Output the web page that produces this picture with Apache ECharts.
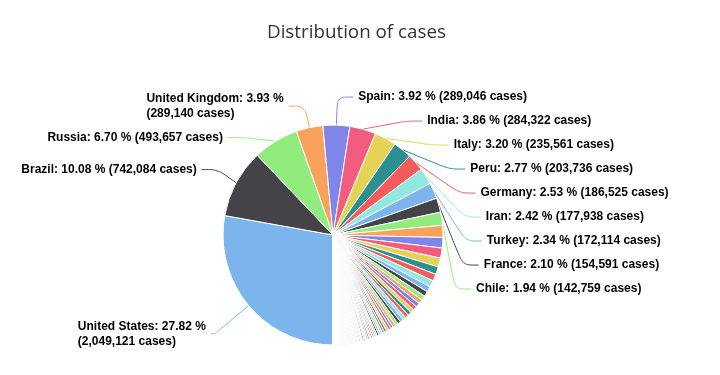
<!DOCTYPE html>
<html>
<head>
<meta charset="utf-8">
<script src="https://cdn.jsdelivr.net/npm/echarts@6/dist/echarts.min.js"></script>
<style>
html,body{margin:0;padding:0;background:#fff;}
#chart{width:720px;height:375px;}
</style>
</head>
<body>
<div id="chart"></div>
<script>
const titleText = 'Distribution of cases';

const countries = [
  'United States','Brazil','Russia','United Kingdom','Spain','India','Italy','Peru','Germany','Iran','Turkey','France','Chile',
  'Mexico','Pakistan','Saudi Arabia','Canada','China','Bangladesh','Qatar','Belgium','South Africa','Belarus',
  'Netherlands','Sweden','Ecuador','Colombia','UAE','Singapore','Egypt','Portugal','Indonesia','Kuwait',
  'Switzerland','Ukraine','Poland','Ireland','Argentina','Philippines','Afghanistan','Dominican Republic','Romania','Israel',
  'Panama','Oman','Japan','Austria','Bahrain','Iraq','Armenia','Bolivia','Nigeria','Kazakhstan',
  'Denmark','Serbia','South Korea','Algeria','Moldova','Ghana','Czechia','Cameroon','Morocco','Norway',
  'Malaysia','Guatemala','Azerbaijan','Australia','Finland','Sudan','Honduras','Uzbekistan','Senegal','Tajikistan',
  'Nepal','DR Congo','Ivory Coast','Guinea','Luxembourg','Djibouti','Hungary','Haiti','Gabon','El Salvador',
  'North Macedonia','Kenya','Thailand','Greece','Bulgaria','Bosnia and Herzegovina','Venezuela','Mayotte','Somalia','Ethiopia',
  'Croatia','Cuba','Kyrgyzstan','Maldives','Estonia','Sri Lanka','Central African Republic','Iceland','Costa Rica','Lithuania',
  'Mali','South Sudan','Slovakia','New Zealand','Slovenia','Nicaragua','Lebanon','Albania','Guinea-Bissau','Madagascar',
  'Equatorial Guinea','Kosovo','French Guiana','Paraguay','Zambia','Sierra Leone','Hong Kong','Mauritania','Latvia','Tunisia',
  'Niger','Cyprus','Burkina Faso','Jordan','Andorra','Uruguay','Chad','Georgia','Diamond Princess','San Marino',
  'Congo','Uganda','Malta','Sao Tome and Principe','Jamaica','Yemen','Channel Islands','Palestine','Tanzania','Togo',
  'Mozambique','Réunion','Malawi','Rwanda','Taiwan','Eswatini','Libya','Liberia','Mauritius','Isle of Man',
  'Vietnam','Montenegro','Zimbabwe','Benin','Myanmar','Martinique','Suriname','Mongolia','Cayman Islands','Faroe Islands',
  'Gibraltar','Comoros','Syria','Guadeloupe','Guyana','Bermuda','Brunei','Cambodia','Trinidad and Tobago','Angola',
  'Bahamas','Aruba','Monaco','Barbados','Burundi','Liechtenstein','Sint Maarten','Bhutan','Botswana','Macao',
  'Eritrea','Namibia','Gambia','Saint Vincent','Antigua and Barbuda','Timor-Leste','Grenada','Curaçao','Laos','Belize',
  'Saint Lucia','Fiji','Dominica','Saint Kitts and Nevis','Falkland Islands','Greenland','Turks and Caicos','Vatican City','Montserrat','Seychelles',
  'Western Sahara','Papua New Guinea','British Virgin Islands','Caribbean Netherlands','St. Barth','Lesotho','Anguilla','Saint Pierre Miquelon'
];

const cases = [
  2049121,742084,493657,289140,289046,284322,235561,203736,186525,177938,172114,154591,142759,
  129184,113702,108571,96653,83057,74865,71879,59348,55421,50265,
  47739,45133,43378,40719,39904,38965,35444,35306,33076,32510,
  30965,28381,28201,25207,24761,23732,21459,20808,20749,18032,
  17889,17486,17251,17034,16667,15414,14669,14644,14554,13100,
  12099,12036,11947,10484,10391,10201,9940,8681,8610,8576,
  8369,8221,8191,7285,7001,6730,6327,4877,4759,4690,
  4614,4390,4181,4117,4078,4054,4017,3662,3463,3373,
  3364,3215,3125,3088,3086,2775,2738,2540,2494,2336,
  2249,2200,2007,1981,1965,1859,1850,1807,1744,1720,
  1715,1670,1531,1504,1488,1464,1388,1385,1339,1317,
  1306,1263,1220,1202,1200,1176,1108,1104,1094,1087,
  974,971,891,890,852,848,837,818,712,692,
  683,646,626,611,600,560,560,510,509,497,
  489,480,455,451,443,398,393,370,337,336,
  332,324,314,305,261,200,200,197,193,187,
  176,176,164,162,158,144,141,126,117,113,
  103,101,99,96,83,82,77,59,48,45,
  41,31,28,27,26,24,23,22,19,19,
  19,18,18,15,13,13,12,12,11,11,
  9,8,8,7,6,4,3,1
];

const labeledCountries = ['United States','Brazil','Russia','United Kingdom','Spain','India','Italy','Peru','Germany','Iran','Turkey','France','Chile'];
const wrappedLabels = ['United States','United Kingdom'];
const palette = ['#7cb5ec','#434348','#90ed7d','#f7a35c','#8085e9','#f15c80','#e4d354','#2b908f','#f45b5b','#91e8e1'];

// connector style tweaks for a few labels (style only)
const connectorStyle = {
  'United Kingdom': { length: 22, length2: 16 },
  'United States': { length: 44, length2: 4 }
};

const total = cases.reduce((a, b) => a + b, 0);

const pieData = countries.map((name, i) => {
  const shown = labeledCountries.includes(name);
  return {
    name: name,
    value: cases[i],
    label: { show: shown },
    labelLine: Object.assign({ show: shown }, connectorStyle[name] || {})
  };
});

const labelFont = {
  fontFamily: 'Liberation Sans, Arial, sans-serif',
  fontSize: 12,
  fontWeight: 'bold',
  color: '#000000',
  lineHeight: 15,
  align: 'left'
};

const chart = echarts.init(document.getElementById('chart'), null, { renderer: 'canvas' });
chart.setOption({
  animation: false,
  color: palette,
  title: {
    text: titleText,
    left: 262,
    top: 18,
    textStyle: { fontFamily: 'Open Sans', fontSize: 18.8, fontWeight: 'normal', color: '#333333' }
  },
  series: [{
    type: 'pie',
    center: [333, 235],
    radius: [0, 110],
    startAngle: 270,
    clockwise: true,
    avoidLabelOverlap: true,
    data: pieData,
    itemStyle: { borderColor: '#ffffff', borderWidth: 1 },
    emphasis: { disabled: true },
    label: {
      show: false,
      position: 'outside',
      distanceToLabelLine: 5,
      minMargin: 12,
      formatter: function (p) {
        const pct = (p.value / total * 100).toFixed(2);
        const head = p.name + ': ' + pct + ' %';
        const tail = '(' + p.value.toLocaleString('en-US') + ' cases)';
        return wrappedLabels.includes(p.name)
          ? '{t|' + head + '}\n{t|' + tail + '}'
          : '{t|' + head + ' ' + tail + '}';
      },
      rich: {
        t: labelFont
      }
    },
    labelLine: {
      show: false,
      length: 28,
      length2: 16,
      smooth: 0.3,
      lineStyle: { width: 1 }
    }
  }]
});
</script>
</body>
</html>
